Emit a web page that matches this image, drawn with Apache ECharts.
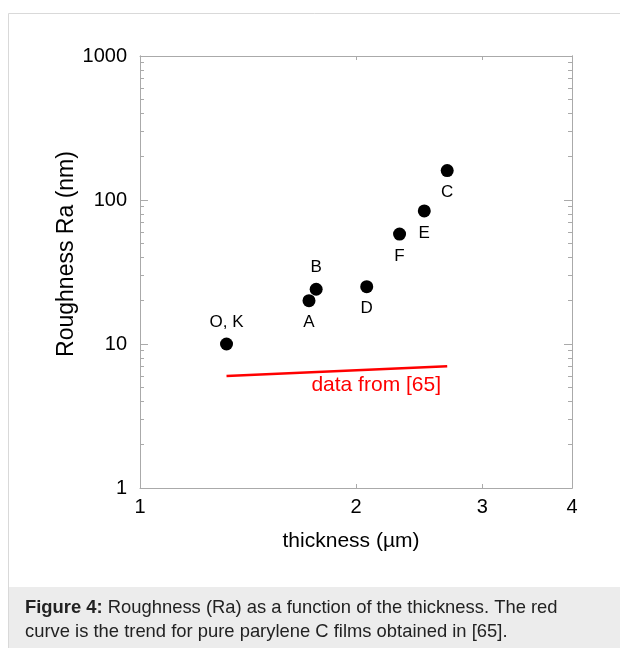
<!DOCTYPE html>
<html>
<head>
<meta charset="utf-8">
<script src="https://cdn.jsdelivr.net/npm/echarts@6/dist/echarts.min.js"></script>
<style>
html, body { margin: 0; padding: 0; background: #fff; }
#chart { width: 620px; height: 648px; }
</style>
</head>
<body>
<div id="chart"></div>
<script>
// Muestras: espesor (um) y rugosidad Ra (nm)
const muestras = ['O, K', 'A', 'B', 'D', 'F', 'E', 'C'];
const espesor = [1.32, 1.72, 1.76, 2.07, 2.3, 2.49, 2.68];
const rugosidad = [10, 20, 24, 25, 58, 84, 160];

// Tendencia de parileno C puro [65]
const espesorRef = [1.32, 2.68];
const rugosidadRef = [6.0, 7.0];

// Marcas de los ejes
const etiquetasX = [1, 2, 3, 4];
const ticksX = [2, 3];
const ticksYMenores = [2, 3, 4, 5, 6, 7, 8, 9, 20, 30, 40, 50, 60, 70, 80, 90, 200, 300, 400, 500, 600, 700, 800, 900];

const fuente = 'Liberation Sans, Arial, sans-serif';
const colorEje = '#aaaaaa';
const arriba = ['O, K', 'B']; // etiquetas que van encima del punto

function ejeY(posicion, valores, largo, conEtiquetas) {
    return {
        type: 'log',
        logBase: 10,
        min: 1,
        max: 1000,
        position: posicion,
        axisLine: { show: true, lineStyle: { color: colorEje, width: 1 } },
        axisTick: { show: true, inside: true, length: largo, customValues: valores, lineStyle: { color: colorEje } },
        axisLabel: {
            show: conEtiquetas,
            fontSize: 20,
            fontFamily: fuente,
            color: '#000',
            margin: 13,
            formatter: v => String(Math.round(v))
        },
        splitLine: { show: false },
        minorTick: { show: false }
    };
}

function ejeX(posicion, conEtiquetas) {
    return {
        type: 'log',
        logBase: 10,
        min: 1,
        max: 4,
        position: posicion,
        axisLine: { show: true, lineStyle: { color: colorEje, width: 1 } },
        axisTick: { show: true, inside: true, length: 4, customValues: ticksX, lineStyle: { color: colorEje } },
        axisLabel: {
            show: conEtiquetas,
            customValues: etiquetasX,
            fontSize: 20,
            fontFamily: fuente,
            color: '#000',
            margin: 9,
            formatter: v => String(Math.round(v))
        },
        splitLine: { show: false }
    };
}

const ejeIzq = ejeY('left', null, 8, true);
ejeIzq.name = 'Roughness Ra (nm)';
ejeIzq.nameLocation = 'middle';
ejeIzq.nameGap = 62;
ejeIzq.nameMoveOverlap = false;
ejeIzq.nameTextStyle = { fontSize: 23, fontFamily: fuente, color: '#000', padding: [0, 0, 0, 36] };
delete ejeIzq.axisTick.customValues;

const ejeDer = ejeY('right', null, 8, false);
delete ejeDer.axisTick.customValues;

const ejeAbajo = ejeX('bottom', true);
ejeAbajo.name = 'thickness (\u00b5m)';
ejeAbajo.nameLocation = 'middle';
ejeAbajo.nameGap = 43;
ejeAbajo.nameTextStyle = { fontSize: 21, fontFamily: fuente, color: '#000', padding: [0, 10, 0, 0] };

const puntos = muestras.map((m, i) => ({
    name: m,
    value: [espesor[i], rugosidad[i]],
    label: { position: arriba.includes(m) ? 'top' : 'bottom' }
}));

const lineaRef = espesorRef.map((x, i) => ({ value: [x, rugosidadRef[i]] }));
lineaRef[lineaRef.length - 1].label = {
    show: true,
    formatter: 'data from [65]',
    position: 'bottom',
    distance: 8,
    offset: [-71, 0],
    color: '#ff0000',
    fontSize: 21,
    fontFamily: fuente
};

const chart = echarts.init(document.getElementById('chart'));
chart.setOption({
    animation: false,
    backgroundColor: '#fff',
    grid: { left: 140, top: 56, width: 432, height: 432, containLabel: false },
    xAxis: [ejeAbajo, ejeX('top', false)],
    yAxis: [
        ejeIzq,
        ejeY('left', ticksYMenores, 4, false),
        ejeDer,
        ejeY('right', ticksYMenores, 4, false)
    ],
    graphic: [
        {
            type: 'rect', z: -10, silent: true,
            shape: { x: 8.5, y: 13.5, width: 700, height: 700 },
            style: { fill: '#fff', stroke: '#d9d9d9', lineWidth: 1 }
        },
        {
            type: 'rect', z: -9, silent: true,
            shape: { x: 9, y: 587, width: 640, height: 80 },
            style: { fill: '#ececec' }
        },
        {
            type: 'text', z: -8, silent: true,
            x: 25, y: 596,
            style: {
                text: '{b|Figure 4:} Roughness (Ra) as a function of the thickness. The red\ncurve is the trend for pure parylene C films obtained in [65].',
                fontSize: 18.4,
                fontFamily: fuente,
                fill: '#222',
                lineHeight: 24,
                rich: { b: { fontWeight: 'bold', fontSize: 18.4, fontFamily: fuente, fill: '#222', lineHeight: 24 } }
            }
        }
    ],
    series: [
        {
            type: 'line',
            data: lineaRef,
            xAxisIndex: 0,
            yAxisIndex: 0,
            showSymbol: true,
            symbolSize: 0,
            lineStyle: { color: '#ff0000', width: 2.5 },
            itemStyle: { color: '#ff0000' }
        },
        {
            type: 'scatter',
            data: puntos,
            xAxisIndex: 0,
            yAxisIndex: 0,
            symbolSize: 13,
            itemStyle: { color: '#000', opacity: 1 },
            label: {
                show: true,
                formatter: '{b}',
                distance: 7,
                color: '#000',
                fontSize: 17,
                fontFamily: fuente
            }
        }
    ]
});
</script>
</body>
</html>
